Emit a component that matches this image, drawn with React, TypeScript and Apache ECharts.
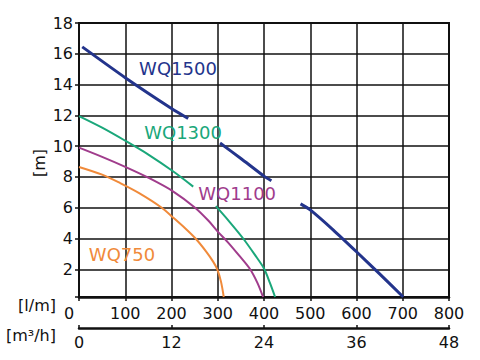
import React, { useEffect, useRef } from "react";
import * as echarts from "echarts";

const yTicks = [2, 4, 6, 8, 10, 12, 14, 16, 18];
const flowTicksLm = [0, 100, 200, 300, 400, 500, 600, 700, 800];
const flowTicksM3h = [0, 12, 24, 36, 48];

const wq1500Seg1 = [[7, 16.45], [100, 14.45], [200, 12.45], [236, 11.8]];
const wq1500Seg2 = [[305, 10.2], [350, 9.2], [400, 8.05], [416, 7.75]];
const wq1500Seg3 = [[479, 6.25], [500, 5.86], [550, 4.55], [600, 3.14], [650, 1.7], [701, 0.2]];

const wq1300Seg1 = [[0, 11.95], [50, 11.2], [100, 10.35], [150, 9.45], [204, 8.35], [247, 7.37]];
const wq1300Seg2 = [[296, 6.1], [325, 5.1], [355, 4.0], [380, 2.95], [400, 2.05], [413, 1.1], [424, 0.2]];

const wq1100 = [[0, 9.9], [50, 9.3], [100, 8.65], [153, 7.9], [204, 7.05], [251, 6.0], [280, 5.15], [300, 4.45], [322, 3.75], [346, 2.9], [370, 2.0], [386, 1.1], [398, 0.2]];

const wq750 = [[0, 8.65], [50, 8.15], [89, 7.6], [130, 6.95], [179, 6.0], [204, 5.35], [230, 4.65], [252, 4.0], [275, 3.15], [290, 2.5], [299, 2.0], [307, 1.2], [313, 0.2]];

const curveNames = ["WQ1500", "WQ1300", "WQ1100", "WQ750"];
const curveColors = ["#23348c", "#1aa77a", "#a03c8c", "#f08a3a"];
const labelAnchors = [[214, 15.03], [225, 10.87], [342, 6.9], [93, 2.93]];

export default function App() {
  const ref = useRef<HTMLDivElement>(null);
  useEffect(() => {
    if (!ref.current) return;
    const chart = echarts.init(ref.current, null, { renderer: "svg" });
    const font = "DejaVu Sans";
    const lineSeries = (data: number[][], color: string, width: number, smooth: number) => ({
      type: "line",
      data,
      xAxisIndex: 0,
      yAxisIndex: 0,
      showSymbol: false,
      symbol: "none",
      smooth,
      lineStyle: { color, width },
      z: 5,
    });
    chart.setOption({
      animation: false,
      backgroundColor: "#fff",
      grid: {
        left: 79,
        right: 31,
        top: 23,
        bottom: 63,
        show: true,
        borderColor: "#111",
        borderWidth: 2,
      },
      xAxis: [
        {
          type: "value",
          min: 0,
          max: 800,
          interval: 100,
          position: "bottom",
          axisLine: { show: true, lineStyle: { color: "#111", width: 2.5 } },
          axisTick: { show: true, length: 4, lineStyle: { color: "#111", width: 1.5 } },
          splitLine: { show: true, lineStyle: { color: "#111", width: 1.5 } },
          axisLabel: {
            color: "#111",
            fontFamily: font,
            fontSize: 16,
            margin: 8,
            formatter: (v: number) => (v === 0 ? "{z|0}" : String(v)),
            rich: { z: { padding: [0, 20, 0, 0], fontFamily: font, fontSize: 16, color: "#111" } },
          },
        },
        {
          type: "value",
          min: 0,
          max: 48,
          interval: 12,
          position: "bottom",
          offset: 31,
          axisLine: { show: true, lineStyle: { color: "#111", width: 2.5 } },
          axisTick: { show: true, inside: true, length: 3, lineStyle: { color: "#111", width: 1.5 } },
          splitLine: { show: false },
          axisLabel: { color: "#111", fontFamily: font, fontSize: 16, margin: 6 },
        },
      ],
      yAxis: [
        {
          type: "value",
          min: 0.2,
          max: 18,
          splitNumber: 9,
          minInterval: 2,
          maxInterval: 2,
          axisLine: { show: true, lineStyle: { color: "#111", width: 2 } },
          axisTick: { show: true, length: 4, lineStyle: { color: "#111", width: 1.5 } },
          splitLine: { show: true, lineStyle: { color: "#111", width: 1.5 } },
          axisLabel: {
            color: "#111",
            fontFamily: font,
            fontSize: 16,
            margin: 6,
            formatter: (v: number) => (yTicks.includes(v) ? String(v) : ""),
          },
        },
      ],
      series: [
        lineSeries(wq1500Seg1, curveColors[0], 3, 0.2),
        lineSeries(wq1500Seg2, curveColors[0], 3, 0.2),
        lineSeries(wq1500Seg3, curveColors[0], 3, 0.2),
        lineSeries(wq1300Seg1, curveColors[1], 2, 0.3),
        lineSeries(wq1300Seg2, curveColors[1], 2, 0.3),
        lineSeries(wq1100, curveColors[2], 2, 0.3),
        lineSeries(wq750, curveColors[3], 2, 0.3),
      ],
    });
    const labels = curveNames.map((name, i) => {
      const p = chart.convertToPixel({ xAxisIndex: 0, yAxisIndex: 0 }, labelAnchors[i]) as number[];
      return {
        type: "text",
        x: p[0],
        y: p[1],
        z: 10,
        style: {
          text: name,
          fill: curveColors[i],
          font: `18px "${font}"`,
          align: "center",
          verticalAlign: "middle",
        },
      };
    });
    chart.setOption({
      graphic: [
        ...labels,
        {
          type: "text",
          x: 56,
          y: 305,
          style: { text: "[l/m]", fill: "#111", font: `16px "${font}"`, align: "right", verticalAlign: "middle" },
        },
        {
          type: "text",
          x: 56,
          y: 335,
          style: { text: "[m³/h]", fill: "#111", font: `16px "${font}"`, align: "right", verticalAlign: "middle" },
        },
        {
          type: "text",
          x: 39,
          y: 163,
          rotation: Math.PI / 2,
          style: { text: "[m]", fill: "#111", font: `16px "${font}"`, align: "center", verticalAlign: "middle" },
        },
      ],
    });
    return () => chart.dispose();
  }, []);
  return <div ref={ref} style={{ width: 480, height: 360, position: "absolute", left: 0, top: 0 }} />;
}
